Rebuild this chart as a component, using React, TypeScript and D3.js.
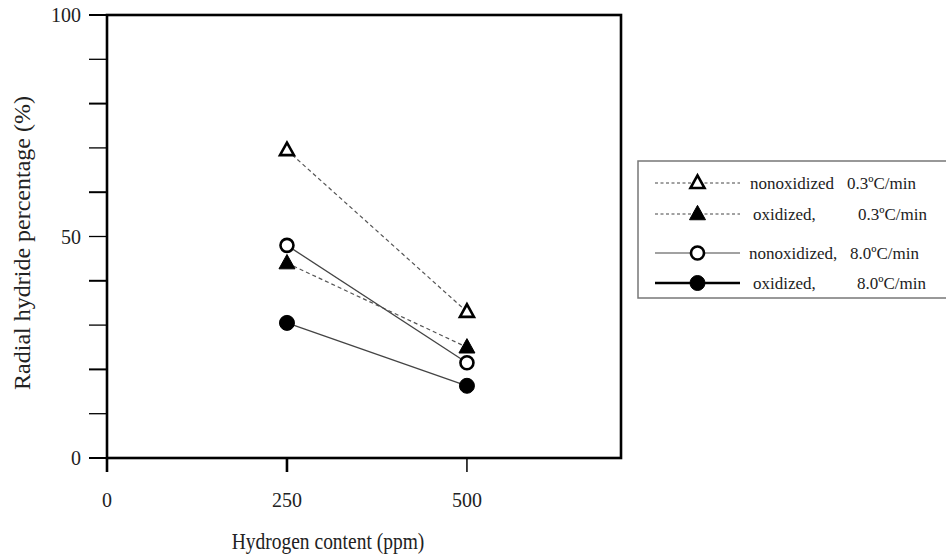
import React from 'react';
import * as d3 from 'd3';

// values
const hydrogen = [250, 500];
const nonox03 = [69.5, 33];
const ox03 = [44, 25];
const nonox80 = [48, 21.5];
const ox80 = [30.5, 16.3];

const xTicks = [0, 250, 500];
const yTicks = d3.range(0, 101, 10);
const yLabels = [0, 50, 100];

const seriesNames = [
  ['nonoxidized', '0.3ºC/min'],
  ['oxidized,', '0.3ºC/min'],
  ['nonoxidized,', '8.0ºC/min'],
  ['oxidized,', '8.0ºC/min'],
];

const font = '"Liberation Serif", "Times New Roman", serif';

const series = [
  { values: nonox03, shape: 'tri', filled: false, dash: '4,3', color: '#555', width: 1.2 },
  { values: ox03, shape: 'tri', filled: true, dash: '4,3', color: '#555', width: 1.2 },
  { values: nonox80, shape: 'circle', filled: false, dash: null, color: '#444', width: 1.3 },
  { values: ox80, shape: 'circle', filled: true, dash: null, color: '#444', width: 1.3 },
];

const Marker = ({ shape, filled, x, y }) => {
  if (shape === 'circle') {
    const r = filled ? 7.5 : 6.5;
    return (
      <circle cx={x} cy={y} r={r} fill={filled ? '#000' : '#fff'}
        stroke="#000" strokeWidth={filled ? 1 : 2.6} />
    );
  }
  const s = filled ? 16 : 14;
  const h = s * 0.9;
  const pts = [[x, y - h * 0.6], [x - s / 2, y + h * 0.4], [x + s / 2, y + h * 0.4]];
  return (
    <polygon points={pts.map(p => p.join(',')).join(' ')}
      fill={filled ? '#000' : '#fff'} stroke="#000"
      strokeWidth={filled ? 1 : 2.6} strokeLinejoin="miter" />
  );
};

export default function App() {
  const width = 946;
  const height = 560;
  const left = 107, right = 621, top = 15, bottom = 458;

  const x = d3.scaleLinear().domain([0, 714]).range([left, right]);
  const y = d3.scaleLinear().domain([0, 100]).range([bottom, top]);

  const line = d3.line<number>()
    .x((_, i) => x(hydrogen[i]))
    .y(d => y(d));

  const legendRows = [183, 214, 253, 283];
  const legendLine = d3.scaleLinear().domain([0, 1]).range([655, 740]);
  const nameX = [750, 753, 749, 753];
  const rateX = [847, 858, 850, 857];

  return (
    <svg width={width} height={height}
      style={{ position: 'absolute', left: 0, top: 0, background: '#fff' }}>
      <rect x={0} y={0} width={width} height={height} fill="#fff" />

      {/* frame */}
      <rect x={left} y={top} width={right - left} height={bottom - top}
        fill="none" stroke="#000" strokeWidth={2.6} />

      {/* y ticks */}
      {yTicks.map(t => (
        <line key={t} x1={left - 18} x2={left} y1={y(t)} y2={y(t)}
          stroke="#000" strokeWidth={t % 20 === 0 ? 2 : 1.3} />
      ))}
      {yLabels.map(t => (
        <text key={t} x={left - 26} y={y(t)} dy="0.35em" textAnchor="end"
          fontFamily={font} fontSize={20} fill="#222">{t}</text>
      ))}

      {/* x ticks */}
      {xTicks.map(t => (
        <g key={t}>
          <line x1={x(t)} x2={x(t)} y1={bottom} y2={bottom + 14}
            stroke="#000" strokeWidth={t === 500 ? 1.5 : 2.6} />
          <text x={x(t)} y={507} textAnchor="middle" fontFamily={font}
            fontSize={20} fill="#222">{t}</text>
        </g>
      ))}

      {/* axis titles */}
      <text transform="translate(328,549) scale(1,1.18)" textAnchor="middle"
        fontFamily={font} fontSize={19.5} fill="#222">
        Hydrogen content (ppm)
      </text>
      <text transform={`translate(30,${243}) rotate(-90)`}
        textAnchor="middle" fontFamily={font} fontSize={24} fill="#222">
        Radial hydride percentage (%)
      </text>

      {/* series */}
      {series.map((s, i) => (
        <path key={'l' + i} d={line(s.values) || ''} fill="none" stroke={s.color}
          strokeWidth={s.width} strokeDasharray={s.dash || undefined} />
      ))}
      {series.map((s, i) => s.values.map((v, j) => (
        <Marker key={`m${i}-${j}`} shape={s.shape} filled={s.filled}
          x={x(hydrogen[j])} y={y(v)} />
      )))}

      {/* legend */}
      <rect x={638} y={161} width={330} height={137} fill="#fff"
        stroke="#777" strokeWidth={1.5} />
      {series.map((s, i) => {
        const ly = legendRows[i];
        const [a, b] = seriesNames[i];
        const lw = i === 3 ? 2.6 : s.dash ? 1 : 1.2;
        return (
          <g key={'lg' + i}>
            <line x1={legendLine(0)} x2={legendLine(1)} y1={ly} y2={ly}
              stroke={i === 3 ? '#000' : '#444'} strokeWidth={lw}
              strokeDasharray={s.dash ? '3,2.5' : undefined} />
            <Marker shape={s.shape} filled={s.filled} x={legendLine(0.5)} y={ly} />
            <text x={nameX[i]} y={ly} dy="0.35em" fontFamily={font}
              fontSize={17} fill="#222">{a}</text>
            <text x={rateX[i]} y={ly} dy="0.35em" fontFamily={font}
              fontSize={17} fill="#222">{b}</text>
          </g>
        );
      })}
    </svg>
  );
}
